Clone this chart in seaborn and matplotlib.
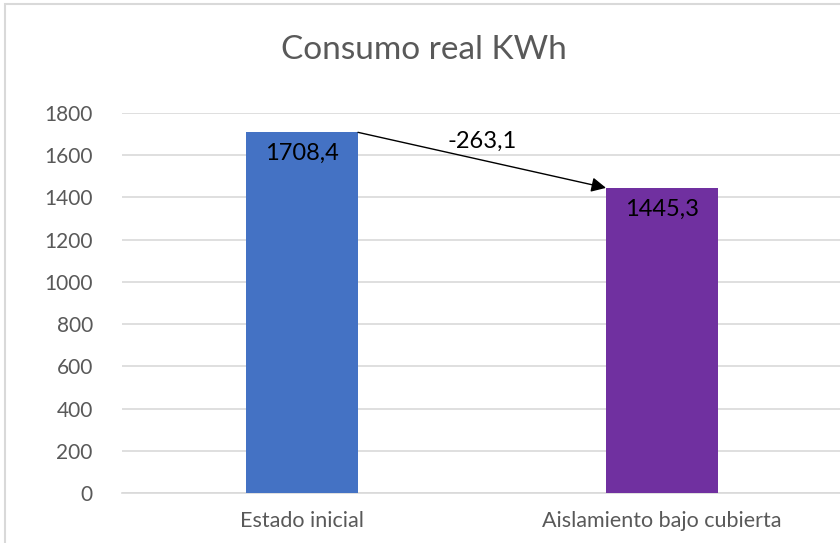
import matplotlib
matplotlib.use("Agg")
import matplotlib.pyplot as plt
import seaborn as sns
import pandas as pd
from matplotlib.patches import Rectangle

categorias = ["Estado inicial", "Aislamiento bajo cubierta"]
consumo = [1708.4, 1445.3]
colores = ["#4472C4", "#7030A0"]
ticks_y = [0, 200, 400, 600, 800, 1000, 1200, 1400, 1600, 1800]

sns.set_theme(style="white")
plt.rcParams["font.family"] = ["Lato", "DejaVu Sans"]

df = pd.DataFrame({"categoria": categorias, "consumo": consumo})

fig = plt.figure(figsize=(8.4, 5.43), dpi=100)
ax = fig.add_axes([122 / 840, 1 - 493 / 543, 720 / 840, 380 / 543])

ancho = 0.311
sns.barplot(data=df, x="categoria", y="consumo", hue="categoria",
            palette=colores, width=ancho, legend=False, ax=ax, zorder=3,
            saturation=1, linewidth=0)

ax.set_ylim(0, 1800)
ax.set_xlim(-0.5, 1.5)
ax.set_yticks(ticks_y)
ax.set_yticklabels([str(t) for t in ticks_y])
ax.grid(axis="y", color="#D9D9D9", linewidth=1.2, zorder=0)
ax.set_axisbelow(True)
for s in ["top", "right", "left"]:
    ax.spines[s].set_visible(False)
ax.spines["bottom"].set_color("#D9D9D9")
ax.spines["bottom"].set_linewidth(1.2)
ax.tick_params(axis="y", length=0, labelsize=15, colors="#595959", pad=21)
ax.tick_params(axis="x", length=0, labelsize=15.5, colors="#595959", pad=13)
ax.set_xlabel("")
ax.set_ylabel("")

# value labels inside each bar top
for i, v in enumerate(consumo):
    ax.text(i, v - 52, f"{v:.1f}".replace(".", ","), ha="center", va="top",
            fontsize=17, color="black", zorder=5)

# arrow showing the change between both states
diff = consumo[1] - consumo[0]
ax.annotate("", xy=(1 - ancho / 2, consumo[1]), xytext=(ancho / 2, consumo[0]),
            arrowprops=dict(arrowstyle="-|>", color="black", lw=1,
                            mutation_scale=22, shrinkA=0, shrinkB=0),
            zorder=6, annotation_clip=False)
ax.text(0.5, 1615, f"{diff:.1f}".replace(".", ","), ha="center", va="bottom",
        fontsize=17, color="black", zorder=6)

fig.text(424 / 840, 1 - 50 / 543, "Consumo real KWh", ha="center", va="center",
         fontsize=24, color="#595959")

# chart area border
fig.patches.append(Rectangle((5 / 840, -0.05), 1.0, 1 - 4 / 543 + 0.05,
                             transform=fig.transFigure, fill=False,
                             edgecolor="#D9D9D9", linewidth=1.5))

fig.savefig("out.png", dpi=100, facecolor="white")
